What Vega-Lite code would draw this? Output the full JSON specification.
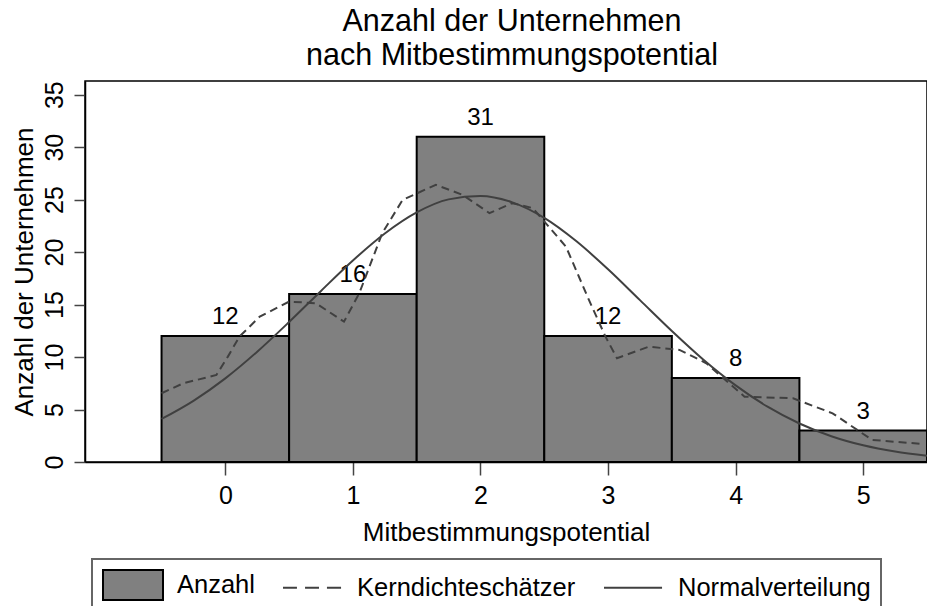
{
  "$schema": "https://vega.github.io/schema/vega-lite/v6.json",
  "autosize": {"type": "none"},
  "width": 842,
  "height": 381,
  "padding": {"left": 85, "top": 81, "right": 0, "bottom": 144},
  "background": "white",
  "config": {
    "font": "Liberation Sans",
    "view": {"stroke": "black", "strokeWidth": 1.5},
    "axis": {
      "grid": false,
      "domainColor": "black",
      "domainWidth": 1.5,
      "tickColor": "#444444",
      "tickWidth": 1.5,
      "labelColor": "black",
      "titleColor": "black",
      "labelFont": "Liberation Sans",
      "titleFont": "Liberation Sans",
      "labelFontSize": 25,
      "titleFontSize": 26,
      "titleFontWeight": "normal"
    }
  },
  "title": {
    "text": ["Anzahl der Unternehmen", "nach Mitbestimmungspotential"],
    "font": "Liberation Sans",
    "fontSize": 30.5,
    "fontWeight": "normal",
    "color": "black",
    "lineHeight": 34,
    "anchor": "middle",
    "frame": "group",
    "offset": 9,
    "dx": 6
  },
  "datasets": {
    "balken": [
      {"wert": 0, "von": -0.5, "bis": 0.5, "anzahl": 12, "serie": "Anzahl"},
      {"wert": 1, "von": 0.5, "bis": 1.5, "anzahl": 16, "serie": "Anzahl"},
      {"wert": 2, "von": 1.5, "bis": 2.5, "anzahl": 31, "serie": "Anzahl"},
      {"wert": 3, "von": 2.5, "bis": 3.5, "anzahl": 12, "serie": "Anzahl"},
      {"wert": 4, "von": 3.5, "bis": 4.5, "anzahl": 8, "serie": "Anzahl"},
      {"wert": 5, "von": 4.5, "bis": 5.5, "anzahl": 3, "serie": "Anzahl"}
    ],
    "kern": [
      {"x": -0.5, "y": 6.55},
      {"x": -0.33, "y": 7.5},
      {"x": -0.07, "y": 8.29},
      {"x": 0.02, "y": 10.04},
      {"x": 0.11, "y": 11.94},
      {"x": 0.27, "y": 13.85},
      {"x": 0.5, "y": 15.28},
      {"x": 0.71, "y": 15.13},
      {"x": 0.93, "y": 13.37},
      {"x": 1.05, "y": 16.08},
      {"x": 1.23, "y": 21.8},
      {"x": 1.39, "y": 24.98},
      {"x": 1.65, "y": 26.41},
      {"x": 1.86, "y": 25.45},
      {"x": 2.07, "y": 23.71},
      {"x": 2.25, "y": 24.66},
      {"x": 2.41, "y": 24.19},
      {"x": 2.67, "y": 20.52},
      {"x": 2.85, "y": 15.44},
      {"x": 2.98, "y": 11.94},
      {"x": 3.07, "y": 9.89},
      {"x": 3.32, "y": 10.99},
      {"x": 3.56, "y": 10.68},
      {"x": 3.77, "y": 9.41},
      {"x": 4.07, "y": 6.22},
      {"x": 4.45, "y": 6.07},
      {"x": 4.76, "y": 4.64},
      {"x": 5.07, "y": 2.1},
      {"x": 5.47, "y": 1.72}
    ],
    "normal": [
      {"x": -0.5, "y": 4.1},
      {"x": -0.25, "y": 5.83},
      {"x": 0, "y": 7.97},
      {"x": 0.25, "y": 10.51},
      {"x": 0.5, "y": 13.34},
      {"x": 0.75, "y": 16.3},
      {"x": 1, "y": 19.2},
      {"x": 1.25, "y": 21.77},
      {"x": 1.5, "y": 23.78},
      {"x": 1.75, "y": 25.02},
      {"x": 2, "y": 25.35},
      {"x": 2.25, "y": 24.74},
      {"x": 2.5, "y": 23.26},
      {"x": 2.75, "y": 21.05},
      {"x": 3, "y": 18.36},
      {"x": 3.25, "y": 15.42},
      {"x": 3.5, "y": 12.48},
      {"x": 3.75, "y": 9.72},
      {"x": 4, "y": 7.3},
      {"x": 4.25, "y": 5.27},
      {"x": 4.5, "y": 3.67},
      {"x": 4.75, "y": 2.46},
      {"x": 5, "y": 1.59},
      {"x": 5.25, "y": 0.99},
      {"x": 5.5, "y": 0.59}
    ]
  },
  "layer": [
    {
      "data": {"name": "balken"},
      "mark": {"type": "bar", "stroke": "black", "strokeWidth": 2, "opacity": 1},
      "encoding": {
        "x": {
          "field": "von", "type": "quantitative",
          "title": "Mitbestimmungspotential",
          "scale": {"domain": [-1.1, 5.5], "nice": false, "zero": false},
          "axis": {"values": [0, 1, 2, 3, 4, 5], "format": "d", "tickSize": 13, "labelPadding": 28, "labelBaseline": "alphabetic", "titleY": 78, "titleBaseline": "alphabetic", "titleAnchor": "middle", "labelFlush": false}
        },
        "x2": {"field": "bis"},
        "y": {
          "field": "anzahl", "type": "quantitative",
          "title": "Anzahl der Unternehmen",
          "scale": {"domain": [0, 36.3], "nice": false},
          "axis": {"values": [0, 5, 10, 15, 20, 25, 30, 35], "format": "d", "tickSize": 11, "labelPadding": 12, "labelAngle": 270, "labelAlign": "center", "labelBaseline": "alphabetic", "labelFlush": false, "titleAngle": 270, "titleX": -53, "titleY": 190.5, "titleAlign": "center", "titleBaseline": "alphabetic"}
        },
        "y2": {"datum": 0},
        "color": {
          "field": "serie", "type": "nominal",
          "scale": {"domain": ["Anzahl", "Kerndichteschätzer", "Normalverteilung"], "range": ["#808080", "#404040", "#404040"]},
          "legend": {
            "title": null,
            "orient": "none",
            "legendX": 7,
            "legendY": 478,
            "direction": "horizontal",
            "strokeColor": "#666666",
            "padding": 10,
            "symbolSize": 900,
            "symbolStrokeWidth": 2,
            "symbolStrokeColor": "black",
            "labelOffset": 43,
            "columnPadding": 24,
            "labelFont": "Liberation Sans",
            "labelFontSize": 25.5,
            "labelColor": "black",
            "labelLimit": 2000,
            "labelExpr": "datum.label === 'Normalverteilung' ? datum.label + '                        ' : datum.label",
            "encoding": {
              "symbols": {
                "shape": {"value": {"expr": "datum.value === 'Anzahl' ? 'M-1,-1H3V1H-1Z' : datum.value === 'Kerndichteschätzer' ? 'M-1,0H-0.07M0.47,0H1.4M1.93,0H2.87' : 'M-1,0H2.87'"}},
                "stroke": {"value": {"expr": "datum.value === 'Anzahl' ? '#000000' : '#404040'"}},
                "strokeWidth": {"value": 2},
                "opacity": {"value": 1}
              },
              "legend": {
                "strokeWidth": {"value": 2}
              }
            }
          }
        }
      }
    },
    {
      "data": {"name": "balken"},
      "mark": {"type": "text", "dy": -12, "baseline": "alphabetic", "fontSize": 24, "font": "Liberation Sans", "color": "black"},
      "encoding": {
        "x": {"field": "wert", "type": "quantitative", "title": "Mitbestimmungspotential"},
        "y": {"field": "anzahl", "type": "quantitative", "title": "Anzahl der Unternehmen"},
        "text": {"field": "anzahl", "type": "quantitative"}
      }
    },
    {
      "data": {"name": "kern"},
      "mark": {"type": "line", "strokeWidth": 2, "strokeDash": [8, 5], "color": "#404040"},
      "encoding": {
        "x": {"field": "x", "type": "quantitative", "title": "Mitbestimmungspotential"},
        "y": {"field": "y", "type": "quantitative", "title": "Anzahl der Unternehmen"}
      }
    },
    {
      "data": {"name": "normal"},
      "mark": {"type": "line", "strokeWidth": 2, "color": "#404040", "interpolate": "monotone"},
      "encoding": {
        "x": {"field": "x", "type": "quantitative", "title": "Mitbestimmungspotential"},
        "y": {"field": "y", "type": "quantitative", "title": "Anzahl der Unternehmen"}
      }
    }
  ]
}
